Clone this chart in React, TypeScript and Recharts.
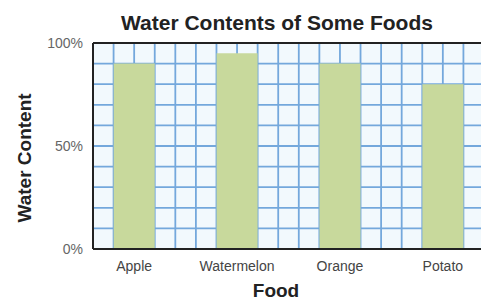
import { BarChart, Bar, XAxis, YAxis, CartesianGrid, ReferenceLine } from 'recharts';

const foods = ['Apple', 'Watermelon', 'Orange', 'Potato'];
const waterContent = [90, 95, 90, 80];
const yTicks = [0, 10, 20, 30, 40, 50, 60, 70, 80, 90, 100];
const yLabelTicks = [0, 50, 100];
const xDomain = [-0.4, 3.4];
const gridXTicks = [-0.4, -0.2, 0, 0.2, 0.4, 0.6, 0.8, 1, 1.2, 1.4, 1.6, 1.8, 2, 2.2, 2.4, 2.6, 2.8, 3, 3.2, 3.4];

const font = '"Liberation Sans", Arial, sans-serif';

const data = foods.map((name, i) => ({ idx: i, name, water: waterContent[i] }));

// map grid values to pixels with the axis scale when available, else the plot offset
const verticalLines = ({ xAxis, offset }: any) => {
  if (xAxis && typeof xAxis.scale === 'function') return gridXTicks.map((v) => xAxis.scale(v));
  const span = xDomain[1] - xDomain[0];
  return gridXTicks.map((v) => offset.left + ((v - xDomain[0]) / span) * offset.width);
};

export default function App() {
  return (
    <div
      style={{
        position: 'absolute',
        left: 0,
        top: 0,
        width: 481,
        height: 300,
        overflow: 'hidden',
        background: '#fff',
        fontFamily: font,
      }}
    >
      <BarChart width={490} height={300} data={data} margin={{ top: 43, right: 6, bottom: 0, left: 0 }}>
        <CartesianGrid
          xAxisId="main"
          yAxisId="main"
          stroke="#74a8dc"
          strokeWidth={1.8}
          fill="#f2f9fd"
          fillOpacity={1}
          verticalCoordinatesGenerator={verticalLines}
        />
        <XAxis
          xAxisId="main"
          type="number"
          dataKey="idx"
          domain={xDomain}
          allowDataOverflow
          ticks={[0, 1, 2, 3]}
          interval={0}
          tickFormatter={(v) => foods[v]}
          height={51}
          axisLine={{ stroke: '#222', strokeWidth: 2 }}
          tickLine={false}
          tickMargin={6}
          tick={{ fill: '#444', fontSize: 14, fontFamily: font }}
        />
        <YAxis
          yAxisId="main"
          type="number"
          domain={[0, 100]}
          ticks={yTicks}
          interval={0}
          tickFormatter={(v) => (yLabelTicks.includes(v) ? `${v}%` : '')}
          width={93}
          axisLine={{ stroke: '#222', strokeWidth: 2 }}
          tickLine={false}
          tickSize={6}
          tickMargin={4}
          tick={{ fill: '#666', fontSize: 14, fontFamily: font }}
        />
        <ReferenceLine xAxisId="main" yAxisId="main" y={100} stroke="#222" strokeWidth={2} />
        <Bar
          xAxisId="main"
          yAxisId="main"
          dataKey="water"
          fill="#c8d99c"
          barSize={41}
          isAnimationActive={false}
        />
      </BarChart>
      <div
        style={{
          position: 'absolute',
          left: 277,
          top: 12,
          transform: 'translateX(-50%)',
          whiteSpace: 'nowrap',
          fontSize: 21,
          lineHeight: '21px',
          fontWeight: 'bold',
          color: '#222',
        }}
      >
        Water Contents of Some Foods
      </div>
      <div
        style={{
          position: 'absolute',
          left: 23.5,
          top: 158,
          transform: 'translate(-50%, -50%) rotate(-90deg)',
          whiteSpace: 'nowrap',
          fontSize: 19,
          lineHeight: '19px',
          fontWeight: 'bold',
          color: '#222',
        }}
      >
        Water Content
      </div>
      <div
        style={{
          position: 'absolute',
          left: 276,
          top: 281,
          transform: 'translateX(-50%)',
          whiteSpace: 'nowrap',
          fontSize: 19,
          lineHeight: '19px',
          fontWeight: 'bold',
          color: '#222',
        }}
      >
        Food
      </div>
    </div>
  );
}
